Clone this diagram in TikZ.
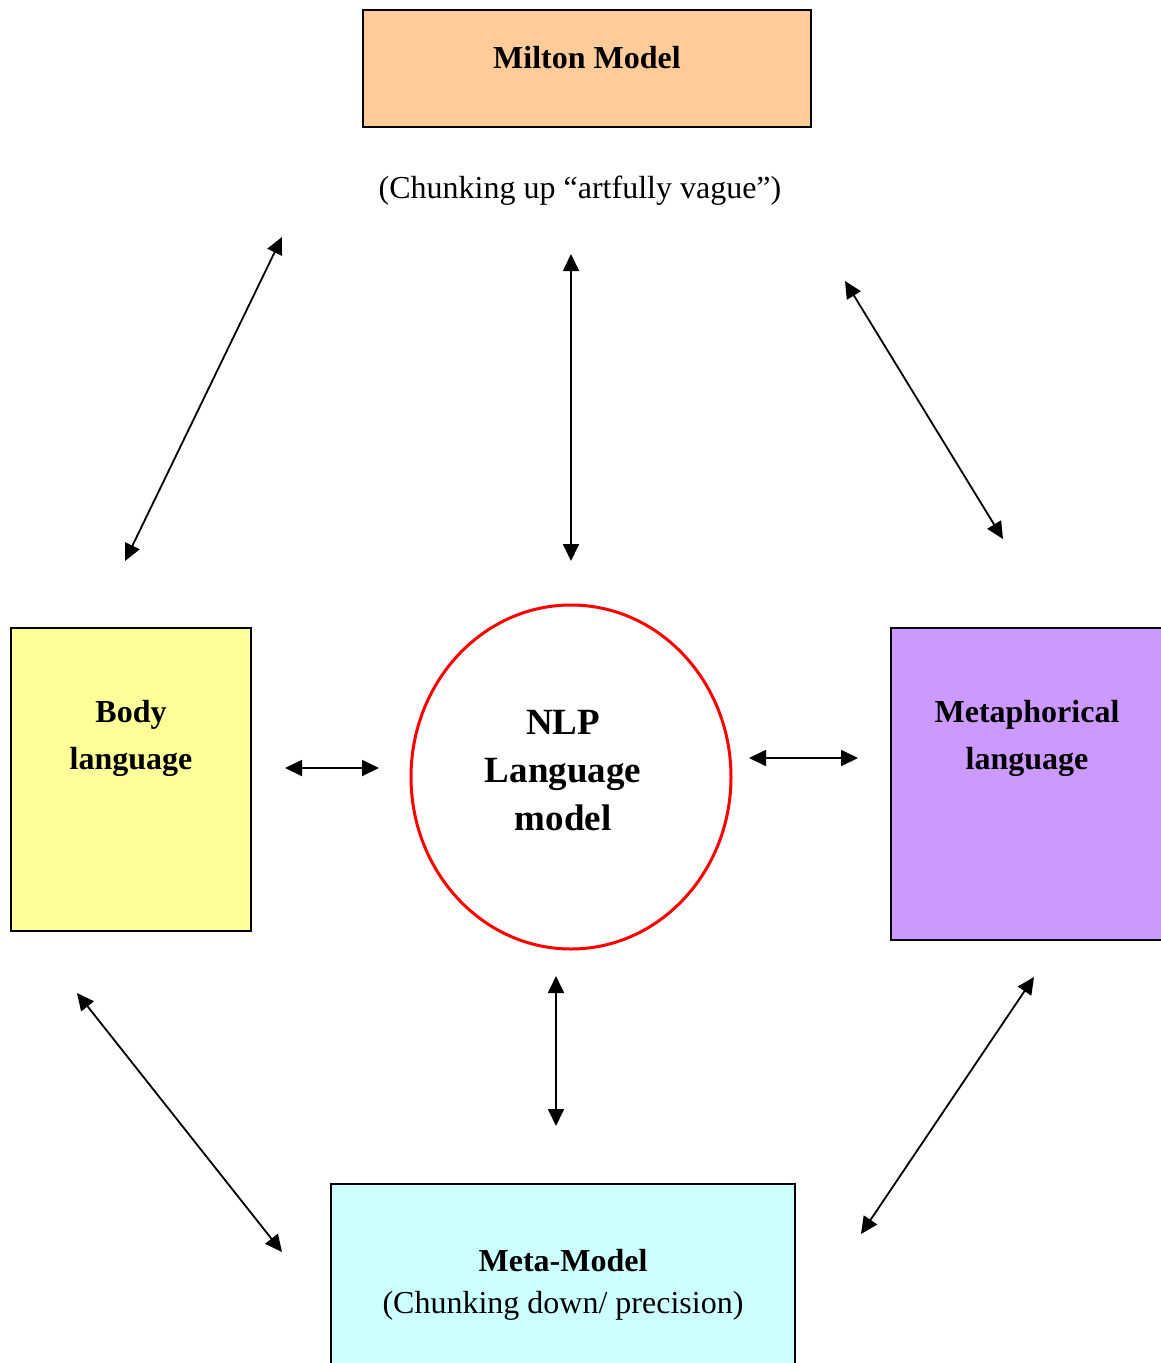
\documentclass[tikz,border=0pt]{standalone}
\usepackage{fontspec}
\setmainfont{Liberation Serif}
\usetikzlibrary{arrows.meta,shapes.geometric}
\definecolor{miltonfill}{HTML}{FFCC99}
\definecolor{bodyfill}{HTML}{FFFF99}
\definecolor{metafill}{HTML}{CC99FF}
\definecolor{modelfill}{HTML}{CCFFFF}
\tikzset{
  box/.style={draw=black, line width=1.8pt},
  lbl/.style={anchor=base, inner sep=0pt, font=\fontsize{32}{48}\selectfont},
  blbl/.style={anchor=base, inner sep=0pt, font=\fontsize{32}{48}\selectfont\bfseries},
  biglbl/.style={anchor=base, inner sep=0pt, font=\fontsize{37}{48}\selectfont\bfseries},
  link/.style={line width=1.8pt, {Triangle[length=17pt,width=16pt]}-{Triangle[length=17pt,width=16pt]}}
}
\begin{document}
\begin{tikzpicture}[x=1pt,y=-1pt]
\useasboundingbox (0,0) rectangle (1161,1363);
% boxes
\path[box, fill=miltonfill] (363,10) rectangle (811,127);
\path[box, fill=bodyfill] (11,628) rectangle (251,931);
\path[fill=metafill] (891,628) rectangle (1165,940);
\draw[line width=1.8pt] (1165,628) -- (891,628) -- (891,940) -- (1165,940);
\path[fill=modelfill] (331,1184) rectangle (795,1370);
\draw[line width=1.8pt] (331,1370) -- (331,1184) -- (795,1184) -- (795,1370);
\node[draw=red, line width=3pt, ellipse, inner sep=0pt, minimum width=320pt, minimum height=344pt] (circ) at (571,777) {};
% labels
\node[blbl] (milton) at (587,68) {Milton Model};
\node[lbl] (chunkup) at (580,198) {(Chunking up “artfully vague”)};
\node[blbl] (body1) at (131,722) {Body};
\node[blbl] (body2) at (131,769) {language};
\node[blbl] (meta1) at (1027,722) {Metaphorical};
\node[blbl] (meta2) at (1027,769) {language};
\node[biglbl] (nlp1) at (563,734) {NLP};
\node[biglbl] (nlp2) at (563,782) {Language};
\node[biglbl] (nlp3) at (563,830) {model};
\node[blbl] (mm1) at (563,1271) {Meta-Model};
\node[lbl] (mm2) at (563,1313) {(Chunking down/ precision)};
% arrow end points
\coordinate (a1) at (282,237); \coordinate (a2) at (125,561);
\coordinate (b1) at (571,254); \coordinate (b2) at (571,561);
\coordinate (c1) at (845,281); \coordinate (c2) at (1003,539);
\coordinate (d1) at (285,768); \coordinate (d2) at (379,768);
\coordinate (e1) at (749,758); \coordinate (e2) at (858,758);
\coordinate (f1) at (556,976); \coordinate (f2) at (556,1126);
\coordinate (g1) at (77,993); \coordinate (g2) at (282,1252);
\coordinate (h1) at (1034,977); \coordinate (h2) at (861,1234);
\draw[link] (a1) -- (a2);
\draw[link] (b1) -- (b2);
\draw[link] (c1) -- (c2);
\draw[link] (d1) -- (d2);
\draw[link] (e1) -- (e2);
\draw[link] (f1) -- (f2);
\draw[link] (g1) -- (g2);
\draw[link] (h1) -- (h2);
\end{tikzpicture}
\end{document}
